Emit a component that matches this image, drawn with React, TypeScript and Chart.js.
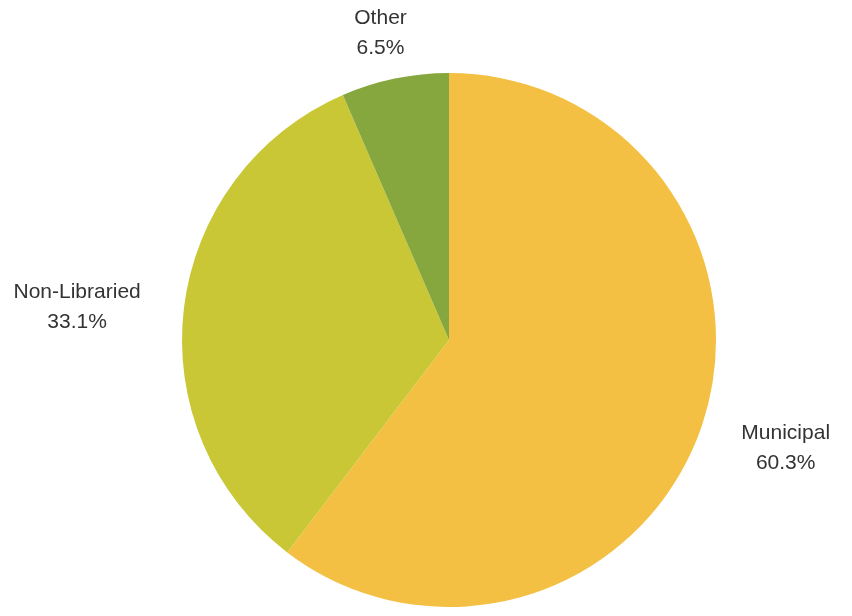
import React, { useEffect, useRef } from "react";
import { Chart, registerables } from "chart.js";

Chart.register(...registerables);

const categories = ["Municipal", "Non-Libraried", "Other"];
const values = [60.3, 33.1, 6.5];
const valueLabels = ["60.3%", "33.1%", "6.5%"];
const colors = ["#F3C043", "#C9C735", "#86A73E"];

const FONT = "21px 'Liberation Sans', Arial, sans-serif";
const LINE_GAP = 30;

const outsideLabels = {
  id: "outsideLabels",
  afterDatasetsDraw(chart: any) {
    const ctx = chart.ctx;
    const meta = chart.getDatasetMeta(0);
    ctx.save();
    ctx.font = FONT;
    ctx.fillStyle = "#333333";
    ctx.textAlign = "center";
    ctx.textBaseline = "middle";
    meta.data.forEach((arc: any, i: number) => {
      const { x, y, startAngle, endAngle, outerRadius } = arc.getProps(
        ["x", "y", "startAngle", "endAngle", "outerRadius"],
        true
      );
      const mid = (startAngle + endAngle) / 2;
      const c = Math.cos(mid);
      const s = Math.sin(mid);
      const w = Math.max(ctx.measureText(categories[i]).width, ctx.measureText(valueLabels[i]).width);
      const h = LINE_GAP + 14;
      const cx = x + c * (outerRadius + 44 + w / 2);
      const cy = y + 6 + s * (outerRadius + 30 + h / 2);
      ctx.fillText(categories[i], cx, cy - LINE_GAP / 2);
      ctx.fillText(valueLabels[i], cx, cy + LINE_GAP / 2);
    });
    ctx.restore();
  },
};

export default function App() {
  const ref = useRef<HTMLCanvasElement>(null);
  useEffect(() => {
    document.body.style.margin = "0";
    const chart = new Chart(ref.current!, {
      type: "pie",
      data: {
        labels: categories,
        datasets: [
          {
            data: values,
            backgroundColor: colors,
            borderWidth: 0,
          },
        ],
      },
      options: {
        animation: false,
        responsive: false,
        maintainAspectRatio: false,
        layout: { padding: { left: 182, right: 136, top: 73, bottom: 9 } },
        plugins: {
          legend: { display: false },
          tooltip: { enabled: false },
        },
      },
      plugins: [outsideLabels],
    });
    return () => chart.destroy();
  }, []);
  return (
    <div style={{ width: 852, height: 616, background: "#ffffff" }}>
      <canvas ref={ref} width={852} height={616} />
    </div>
  );
}
